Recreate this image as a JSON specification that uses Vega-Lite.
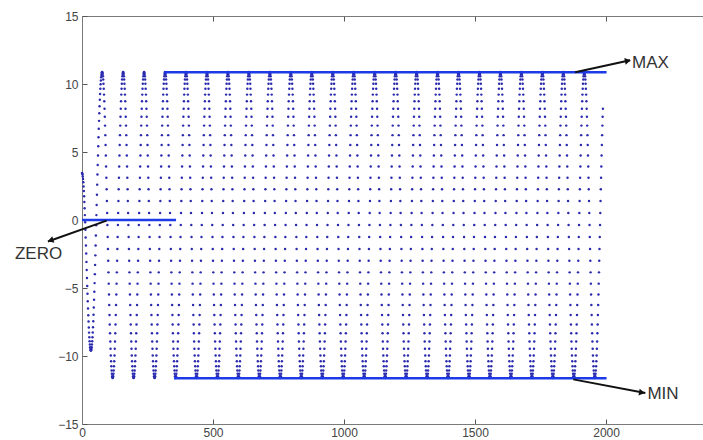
{
"$schema":"https://vega.github.io/schema/vega-lite/v6.json",
"width":621,"height":408,
"autosize":"none",
"padding":{"left":82,"top":16,"right":0,"bottom":16},
"background":"white",
"config":{"view":{"stroke":null},"font":"Liberation Sans",
"axis":{"grid":false,"title":null,"domainColor":"#7a7a7a","tickColor":"#555555","tickWidth":1,"labelColor":"#444444","labelFont":"Liberation Sans","labelFontSize":12,"tickSize":-5,"labelPadding":9,"labelFlush":false,"labelOverlap":false,"format":"d"}},
"datasets":{
"pts":[
{"x":0,"y":3.45},{"x":1,"y":3.42},{"x":2,"y":3.34},{"x":3,"y":3.2},{"x":4,"y":3.01},{"x":5,"y":2.77},{"x":6,"y":2.47},{"x":7,"y":2.13},{"x":8,"y":1.75},{"x":9,"y":1.32},{"x":10,"y":0.86},{"x":11,"y":0.36},{"x":12,"y":-0.17},{"x":13,"y":-0.72},{"x":14,"y":-1.29},{"x":15,"y":-1.88},{"x":16,"y":-2.47},{"x":17,"y":-3.08},{"x":18,"y":-3.68},{"x":19,"y":-4.27},{"x":20,"y":-4.86},{"x":21,"y":-5.43},{"x":22,"y":-5.98},{"x":23,"y":-6.51},{"x":24,"y":-7.01},{"x":25,"y":-7.47},{"x":26,"y":-7.9},{"x":27,"y":-8.28},{"x":28,"y":-8.62},{"x":29,"y":-8.92},{"x":30,"y":-9.16},{"x":31,"y":-9.35},{"x":32,"y":-9.49},{"x":33,"y":-9.57},{"x":34,"y":-9.6},{"x":35,"y":-9.57},{"x":36,"y":-9.49},{"x":37,"y":-9.35},{"x":38,"y":-9.16},{"x":39,"y":-8.92},{"x":40,"y":-8.62},{"x":41,"y":-8.27},{"x":42,"y":-7.88},{"x":43,"y":-7.44},{"x":44,"y":-6.96},{"x":45,"y":-6.43},{"x":46,"y":-5.87},{"x":47,"y":-5.27},{"x":48,"y":-4.64},{"x":49,"y":-3.98},{"x":50,"y":-3.3},{"x":51,"y":-2.6},{"x":52,"y":-1.87},{"x":53,"y":-1.14},{"x":54,"y":-0.39},{"x":55,"y":0.36},{"x":56,"y":1.11},{"x":57,"y":1.86},{"x":58,"y":2.6},{"x":59,"y":3.34},{"x":60,"y":4.05},{"x":61,"y":4.75},{"x":62,"y":5.43},{"x":63,"y":6.08},{"x":64,"y":6.71},{"x":65,"y":7.29},{"x":66,"y":7.85},{"x":67,"y":8.36},{"x":68,"y":8.84},{"x":69,"y":9.26},{"x":70,"y":9.65},{"x":71,"y":9.98},{"x":72,"y":10.26},{"x":73,"y":10.49},{"x":74,"y":10.67},{"x":75,"y":10.8},{"x":76,"y":10.86},
{"x":77,"y":10.88},{"x":78,"y":10.85},{"x":79,"y":10.74},{"x":80,"y":10.57},{"x":81,"y":10.33},{"x":82,"y":10.02},{"x":83,"y":9.65},{"x":84,"y":9.22},{"x":85,"y":8.73},{"x":86,"y":8.18},{"x":87,"y":7.59},{"x":88,"y":6.94},{"x":89,"y":6.24},{"x":90,"y":5.51},{"x":91,"y":4.74},{"x":92,"y":3.94},{"x":93,"y":3.11},{"x":94,"y":2.26},{"x":95,"y":1.39},{"x":96,"y":0.51},{"x":97,"y":-0.37},{"x":98,"y":-1.25},{"x":99,"y":-2.13},{"x":100,"y":-3},{"x":101,"y":-3.85},{"x":102,"y":-4.68},{"x":103,"y":-5.48},{"x":104,"y":-6.25},{"x":105,"y":-6.98},{"x":106,"y":-7.68},{"x":107,"y":-8.33},{"x":108,"y":-8.93},{"x":109,"y":-9.47},{"x":110,"y":-9.96},{"x":111,"y":-10.39},{"x":112,"y":-10.76},{"x":113,"y":-11.07},{"x":114,"y":-11.31},{"x":115,"y":-11.48},{"x":116,"y":-11.59},{"x":117,"y":-11.62},{"x":118,"y":-11.59},{"x":119,"y":-11.48},{"x":120,"y":-11.31},{"x":121,"y":-11.07},{"x":122,"y":-10.76},{"x":123,"y":-10.39},{"x":124,"y":-9.96},{"x":125,"y":-9.47},{"x":126,"y":-8.93},{"x":127,"y":-8.33},{"x":128,"y":-7.68},{"x":129,"y":-6.98},{"x":130,"y":-6.25},{"x":131,"y":-5.48},{"x":132,"y":-4.68},{"x":133,"y":-3.85},{"x":134,"y":-3},{"x":135,"y":-2.13},{"x":136,"y":-1.25},{"x":137,"y":-0.37},{"x":138,"y":0.51},{"x":139,"y":1.39},{"x":140,"y":2.26},{"x":141,"y":3.11},{"x":142,"y":3.94},{"x":143,"y":4.74},{"x":144,"y":5.51},{"x":145,"y":6.24},{"x":146,"y":6.94},{"x":147,"y":7.59},{"x":148,"y":8.18},{"x":149,"y":8.73},{"x":150,"y":9.22},{"x":151,"y":9.65},{"x":152,"y":10.02},{"x":153,"y":10.33},{"x":154,"y":10.57},{"x":155,"y":10.74},{"x":156,"y":10.85},
{"x":157,"y":10.88},{"x":158,"y":10.85},{"x":159,"y":10.74},{"x":160,"y":10.57},{"x":161,"y":10.33},{"x":162,"y":10.02},{"x":163,"y":9.65},{"x":164,"y":9.22},{"x":165,"y":8.73},{"x":166,"y":8.18},{"x":167,"y":7.59},{"x":168,"y":6.94},{"x":169,"y":6.24},{"x":170,"y":5.51},{"x":171,"y":4.74},{"x":172,"y":3.94},{"x":173,"y":3.11},{"x":174,"y":2.26},{"x":175,"y":1.39},{"x":176,"y":0.51},{"x":177,"y":-0.37},{"x":178,"y":-1.25},{"x":179,"y":-2.13},{"x":180,"y":-3},{"x":181,"y":-3.85},{"x":182,"y":-4.68},{"x":183,"y":-5.48},{"x":184,"y":-6.25},{"x":185,"y":-6.98},{"x":186,"y":-7.68},{"x":187,"y":-8.33},{"x":188,"y":-8.93},{"x":189,"y":-9.47},{"x":190,"y":-9.96},{"x":191,"y":-10.39},{"x":192,"y":-10.76},{"x":193,"y":-11.07},{"x":194,"y":-11.31},{"x":195,"y":-11.48},{"x":196,"y":-11.59},{"x":197,"y":-11.62},{"x":198,"y":-11.59},{"x":199,"y":-11.48},{"x":200,"y":-11.31},{"x":201,"y":-11.07},{"x":202,"y":-10.76},{"x":203,"y":-10.39},{"x":204,"y":-9.96},{"x":205,"y":-9.47},{"x":206,"y":-8.93},{"x":207,"y":-8.33},{"x":208,"y":-7.68},{"x":209,"y":-6.98},{"x":210,"y":-6.25},{"x":211,"y":-5.48},{"x":212,"y":-4.68},{"x":213,"y":-3.85},{"x":214,"y":-3},{"x":215,"y":-2.13},{"x":216,"y":-1.25},{"x":217,"y":-0.37},{"x":218,"y":0.51},{"x":219,"y":1.39},{"x":220,"y":2.26},{"x":221,"y":3.11},{"x":222,"y":3.94},{"x":223,"y":4.74},{"x":224,"y":5.51},{"x":225,"y":6.24},{"x":226,"y":6.94},{"x":227,"y":7.59},{"x":228,"y":8.18},{"x":229,"y":8.73},{"x":230,"y":9.22},{"x":231,"y":9.65},{"x":232,"y":10.02},{"x":233,"y":10.33},{"x":234,"y":10.57},{"x":235,"y":10.74},{"x":236,"y":10.85},
{"x":237,"y":10.88},{"x":238,"y":10.85},{"x":239,"y":10.74},{"x":240,"y":10.57},{"x":241,"y":10.33},{"x":242,"y":10.02},{"x":243,"y":9.65},{"x":244,"y":9.22},{"x":245,"y":8.73},{"x":246,"y":8.18},{"x":247,"y":7.59},{"x":248,"y":6.94},{"x":249,"y":6.24},{"x":250,"y":5.51},{"x":251,"y":4.74},{"x":252,"y":3.94},{"x":253,"y":3.11},{"x":254,"y":2.26},{"x":255,"y":1.39},{"x":256,"y":0.51},{"x":257,"y":-0.37},{"x":258,"y":-1.25},{"x":259,"y":-2.13},{"x":260,"y":-3},{"x":261,"y":-3.85},{"x":262,"y":-4.68},{"x":263,"y":-5.48},{"x":264,"y":-6.25},{"x":265,"y":-6.98},{"x":266,"y":-7.68},{"x":267,"y":-8.33},{"x":268,"y":-8.93},{"x":269,"y":-9.47},{"x":270,"y":-9.96},{"x":271,"y":-10.39},{"x":272,"y":-10.76},{"x":273,"y":-11.07},{"x":274,"y":-11.31},{"x":275,"y":-11.48},{"x":276,"y":-11.59},{"x":277,"y":-11.62},{"x":278,"y":-11.59},{"x":279,"y":-11.48},{"x":280,"y":-11.31},{"x":281,"y":-11.07},{"x":282,"y":-10.76},{"x":283,"y":-10.39},{"x":284,"y":-9.96},{"x":285,"y":-9.47},{"x":286,"y":-8.93},{"x":287,"y":-8.33},{"x":288,"y":-7.68},{"x":289,"y":-6.98},{"x":290,"y":-6.25},{"x":291,"y":-5.48},{"x":292,"y":-4.68},{"x":293,"y":-3.85},{"x":294,"y":-3},{"x":295,"y":-2.13},{"x":296,"y":-1.25},{"x":297,"y":-0.37},{"x":298,"y":0.51},{"x":299,"y":1.39},{"x":300,"y":2.26},{"x":301,"y":3.11},{"x":302,"y":3.94},{"x":303,"y":4.74},{"x":304,"y":5.51},{"x":305,"y":6.24},{"x":306,"y":6.94},{"x":307,"y":7.59},{"x":308,"y":8.18},{"x":309,"y":8.73},{"x":310,"y":9.22},{"x":311,"y":9.65},{"x":312,"y":10.02},{"x":313,"y":10.33},{"x":314,"y":10.57},{"x":315,"y":10.74},{"x":316,"y":10.85},
{"x":317,"y":10.88},{"x":318,"y":10.85},{"x":319,"y":10.74},{"x":320,"y":10.57},{"x":321,"y":10.33},{"x":322,"y":10.02},{"x":323,"y":9.65},{"x":324,"y":9.22},{"x":325,"y":8.73},{"x":326,"y":8.18},{"x":327,"y":7.59},{"x":328,"y":6.94},{"x":329,"y":6.24},{"x":330,"y":5.51},{"x":331,"y":4.74},{"x":332,"y":3.94},{"x":333,"y":3.11},{"x":334,"y":2.26},{"x":335,"y":1.39},{"x":336,"y":0.51},{"x":337,"y":-0.37},{"x":338,"y":-1.25},{"x":339,"y":-2.13},{"x":340,"y":-3},{"x":341,"y":-3.85},{"x":342,"y":-4.68},{"x":343,"y":-5.48},{"x":344,"y":-6.25},{"x":345,"y":-6.98},{"x":346,"y":-7.68},{"x":347,"y":-8.33},{"x":348,"y":-8.93},{"x":349,"y":-9.47},{"x":350,"y":-9.96},{"x":351,"y":-10.39},{"x":352,"y":-10.76},{"x":353,"y":-11.07},{"x":354,"y":-11.31},{"x":355,"y":-11.48},{"x":356,"y":-11.59},{"x":357,"y":-11.62},{"x":358,"y":-11.59},{"x":359,"y":-11.48},{"x":360,"y":-11.31},{"x":361,"y":-11.07},{"x":362,"y":-10.76},{"x":363,"y":-10.39},{"x":364,"y":-9.96},{"x":365,"y":-9.47},{"x":366,"y":-8.93},{"x":367,"y":-8.33},{"x":368,"y":-7.68},{"x":369,"y":-6.98},{"x":370,"y":-6.25},{"x":371,"y":-5.48},{"x":372,"y":-4.68},{"x":373,"y":-3.85},{"x":374,"y":-3},{"x":375,"y":-2.13},{"x":376,"y":-1.25},{"x":377,"y":-0.37},{"x":378,"y":0.51},{"x":379,"y":1.39},{"x":380,"y":2.26},{"x":381,"y":3.11},{"x":382,"y":3.94},{"x":383,"y":4.74},{"x":384,"y":5.51},{"x":385,"y":6.24},{"x":386,"y":6.94},{"x":387,"y":7.59},{"x":388,"y":8.18},{"x":389,"y":8.73},{"x":390,"y":9.22},{"x":391,"y":9.65},{"x":392,"y":10.02},{"x":393,"y":10.33},{"x":394,"y":10.57},{"x":395,"y":10.74},{"x":396,"y":10.85},
{"x":397,"y":10.88},{"x":398,"y":10.85},{"x":399,"y":10.74},{"x":400,"y":10.57},{"x":401,"y":10.33},{"x":402,"y":10.02},{"x":403,"y":9.65},{"x":404,"y":9.22},{"x":405,"y":8.73},{"x":406,"y":8.18},{"x":407,"y":7.59},{"x":408,"y":6.94},{"x":409,"y":6.24},{"x":410,"y":5.51},{"x":411,"y":4.74},{"x":412,"y":3.94},{"x":413,"y":3.11},{"x":414,"y":2.26},{"x":415,"y":1.39},{"x":416,"y":0.51},{"x":417,"y":-0.37},{"x":418,"y":-1.25},{"x":419,"y":-2.13},{"x":420,"y":-3},{"x":421,"y":-3.85},{"x":422,"y":-4.68},{"x":423,"y":-5.48},{"x":424,"y":-6.25},{"x":425,"y":-6.98},{"x":426,"y":-7.68},{"x":427,"y":-8.33},{"x":428,"y":-8.93},{"x":429,"y":-9.47},{"x":430,"y":-9.96},{"x":431,"y":-10.39},{"x":432,"y":-10.76},{"x":433,"y":-11.07},{"x":434,"y":-11.31},{"x":435,"y":-11.48},{"x":436,"y":-11.59},{"x":437,"y":-11.62},{"x":438,"y":-11.59},{"x":439,"y":-11.48},{"x":440,"y":-11.31},{"x":441,"y":-11.07},{"x":442,"y":-10.76},{"x":443,"y":-10.39},{"x":444,"y":-9.96},{"x":445,"y":-9.47},{"x":446,"y":-8.93},{"x":447,"y":-8.33},{"x":448,"y":-7.68},{"x":449,"y":-6.98},{"x":450,"y":-6.25},{"x":451,"y":-5.48},{"x":452,"y":-4.68},{"x":453,"y":-3.85},{"x":454,"y":-3},{"x":455,"y":-2.13},{"x":456,"y":-1.25},{"x":457,"y":-0.37},{"x":458,"y":0.51},{"x":459,"y":1.39},{"x":460,"y":2.26},{"x":461,"y":3.11},{"x":462,"y":3.94},{"x":463,"y":4.74},{"x":464,"y":5.51},{"x":465,"y":6.24},{"x":466,"y":6.94},{"x":467,"y":7.59},{"x":468,"y":8.18},{"x":469,"y":8.73},{"x":470,"y":9.22},{"x":471,"y":9.65},{"x":472,"y":10.02},{"x":473,"y":10.33},{"x":474,"y":10.57},{"x":475,"y":10.74},{"x":476,"y":10.85},
{"x":477,"y":10.88},{"x":478,"y":10.85},{"x":479,"y":10.74},{"x":480,"y":10.57},{"x":481,"y":10.33},{"x":482,"y":10.02},{"x":483,"y":9.65},{"x":484,"y":9.22},{"x":485,"y":8.73},{"x":486,"y":8.18},{"x":487,"y":7.59},{"x":488,"y":6.94},{"x":489,"y":6.24},{"x":490,"y":5.51},{"x":491,"y":4.74},{"x":492,"y":3.94},{"x":493,"y":3.11},{"x":494,"y":2.26},{"x":495,"y":1.39},{"x":496,"y":0.51},{"x":497,"y":-0.37},{"x":498,"y":-1.25},{"x":499,"y":-2.13},{"x":500,"y":-3},{"x":501,"y":-3.85},{"x":502,"y":-4.68},{"x":503,"y":-5.48},{"x":504,"y":-6.25},{"x":505,"y":-6.98},{"x":506,"y":-7.68},{"x":507,"y":-8.33},{"x":508,"y":-8.93},{"x":509,"y":-9.47},{"x":510,"y":-9.96},{"x":511,"y":-10.39},{"x":512,"y":-10.76},{"x":513,"y":-11.07},{"x":514,"y":-11.31},{"x":515,"y":-11.48},{"x":516,"y":-11.59},{"x":517,"y":-11.62},{"x":518,"y":-11.59},{"x":519,"y":-11.48},{"x":520,"y":-11.31},{"x":521,"y":-11.07},{"x":522,"y":-10.76},{"x":523,"y":-10.39},{"x":524,"y":-9.96},{"x":525,"y":-9.47},{"x":526,"y":-8.93},{"x":527,"y":-8.33},{"x":528,"y":-7.68},{"x":529,"y":-6.98},{"x":530,"y":-6.25},{"x":531,"y":-5.48},{"x":532,"y":-4.68},{"x":533,"y":-3.85},{"x":534,"y":-3},{"x":535,"y":-2.13},{"x":536,"y":-1.25},{"x":537,"y":-0.37},{"x":538,"y":0.51},{"x":539,"y":1.39},{"x":540,"y":2.26},{"x":541,"y":3.11},{"x":542,"y":3.94},{"x":543,"y":4.74},{"x":544,"y":5.51},{"x":545,"y":6.24},{"x":546,"y":6.94},{"x":547,"y":7.59},{"x":548,"y":8.18},{"x":549,"y":8.73},{"x":550,"y":9.22},{"x":551,"y":9.65},{"x":552,"y":10.02},{"x":553,"y":10.33},{"x":554,"y":10.57},{"x":555,"y":10.74},{"x":556,"y":10.85},
{"x":557,"y":10.88},{"x":558,"y":10.85},{"x":559,"y":10.74},{"x":560,"y":10.57},{"x":561,"y":10.33},{"x":562,"y":10.02},{"x":563,"y":9.65},{"x":564,"y":9.22},{"x":565,"y":8.73},{"x":566,"y":8.18},{"x":567,"y":7.59},{"x":568,"y":6.94},{"x":569,"y":6.24},{"x":570,"y":5.51},{"x":571,"y":4.74},{"x":572,"y":3.94},{"x":573,"y":3.11},{"x":574,"y":2.26},{"x":575,"y":1.39},{"x":576,"y":0.51},{"x":577,"y":-0.37},{"x":578,"y":-1.25},{"x":579,"y":-2.13},{"x":580,"y":-3},{"x":581,"y":-3.85},{"x":582,"y":-4.68},{"x":583,"y":-5.48},{"x":584,"y":-6.25},{"x":585,"y":-6.98},{"x":586,"y":-7.68},{"x":587,"y":-8.33},{"x":588,"y":-8.93},{"x":589,"y":-9.47},{"x":590,"y":-9.96},{"x":591,"y":-10.39},{"x":592,"y":-10.76},{"x":593,"y":-11.07},{"x":594,"y":-11.31},{"x":595,"y":-11.48},{"x":596,"y":-11.59},{"x":597,"y":-11.62},{"x":598,"y":-11.59},{"x":599,"y":-11.48},{"x":600,"y":-11.31},{"x":601,"y":-11.07},{"x":602,"y":-10.76},{"x":603,"y":-10.39},{"x":604,"y":-9.96},{"x":605,"y":-9.47},{"x":606,"y":-8.93},{"x":607,"y":-8.33},{"x":608,"y":-7.68},{"x":609,"y":-6.98},{"x":610,"y":-6.25},{"x":611,"y":-5.48},{"x":612,"y":-4.68},{"x":613,"y":-3.85},{"x":614,"y":-3},{"x":615,"y":-2.13},{"x":616,"y":-1.25},{"x":617,"y":-0.37},{"x":618,"y":0.51},{"x":619,"y":1.39},{"x":620,"y":2.26},{"x":621,"y":3.11},{"x":622,"y":3.94},{"x":623,"y":4.74},{"x":624,"y":5.51},{"x":625,"y":6.24},{"x":626,"y":6.94},{"x":627,"y":7.59},{"x":628,"y":8.18},{"x":629,"y":8.73},{"x":630,"y":9.22},{"x":631,"y":9.65},{"x":632,"y":10.02},{"x":633,"y":10.33},{"x":634,"y":10.57},{"x":635,"y":10.74},{"x":636,"y":10.85},
{"x":637,"y":10.88},{"x":638,"y":10.85},{"x":639,"y":10.74},{"x":640,"y":10.57},{"x":641,"y":10.33},{"x":642,"y":10.02},{"x":643,"y":9.65},{"x":644,"y":9.22},{"x":645,"y":8.73},{"x":646,"y":8.18},{"x":647,"y":7.59},{"x":648,"y":6.94},{"x":649,"y":6.24},{"x":650,"y":5.51},{"x":651,"y":4.74},{"x":652,"y":3.94},{"x":653,"y":3.11},{"x":654,"y":2.26},{"x":655,"y":1.39},{"x":656,"y":0.51},{"x":657,"y":-0.37},{"x":658,"y":-1.25},{"x":659,"y":-2.13},{"x":660,"y":-3},{"x":661,"y":-3.85},{"x":662,"y":-4.68},{"x":663,"y":-5.48},{"x":664,"y":-6.25},{"x":665,"y":-6.98},{"x":666,"y":-7.68},{"x":667,"y":-8.33},{"x":668,"y":-8.93},{"x":669,"y":-9.47},{"x":670,"y":-9.96},{"x":671,"y":-10.39},{"x":672,"y":-10.76},{"x":673,"y":-11.07},{"x":674,"y":-11.31},{"x":675,"y":-11.48},{"x":676,"y":-11.59},{"x":677,"y":-11.62},{"x":678,"y":-11.59},{"x":679,"y":-11.48},{"x":680,"y":-11.31},{"x":681,"y":-11.07},{"x":682,"y":-10.76},{"x":683,"y":-10.39},{"x":684,"y":-9.96},{"x":685,"y":-9.47},{"x":686,"y":-8.93},{"x":687,"y":-8.33},{"x":688,"y":-7.68},{"x":689,"y":-6.98},{"x":690,"y":-6.25},{"x":691,"y":-5.48},{"x":692,"y":-4.68},{"x":693,"y":-3.85},{"x":694,"y":-3},{"x":695,"y":-2.13},{"x":696,"y":-1.25},{"x":697,"y":-0.37},{"x":698,"y":0.51},{"x":699,"y":1.39},{"x":700,"y":2.26},{"x":701,"y":3.11},{"x":702,"y":3.94},{"x":703,"y":4.74},{"x":704,"y":5.51},{"x":705,"y":6.24},{"x":706,"y":6.94},{"x":707,"y":7.59},{"x":708,"y":8.18},{"x":709,"y":8.73},{"x":710,"y":9.22},{"x":711,"y":9.65},{"x":712,"y":10.02},{"x":713,"y":10.33},{"x":714,"y":10.57},{"x":715,"y":10.74},{"x":716,"y":10.85},
{"x":717,"y":10.88},{"x":718,"y":10.85},{"x":719,"y":10.74},{"x":720,"y":10.57},{"x":721,"y":10.33},{"x":722,"y":10.02},{"x":723,"y":9.65},{"x":724,"y":9.22},{"x":725,"y":8.73},{"x":726,"y":8.18},{"x":727,"y":7.59},{"x":728,"y":6.94},{"x":729,"y":6.24},{"x":730,"y":5.51},{"x":731,"y":4.74},{"x":732,"y":3.94},{"x":733,"y":3.11},{"x":734,"y":2.26},{"x":735,"y":1.39},{"x":736,"y":0.51},{"x":737,"y":-0.37},{"x":738,"y":-1.25},{"x":739,"y":-2.13},{"x":740,"y":-3},{"x":741,"y":-3.85},{"x":742,"y":-4.68},{"x":743,"y":-5.48},{"x":744,"y":-6.25},{"x":745,"y":-6.98},{"x":746,"y":-7.68},{"x":747,"y":-8.33},{"x":748,"y":-8.93},{"x":749,"y":-9.47},{"x":750,"y":-9.96},{"x":751,"y":-10.39},{"x":752,"y":-10.76},{"x":753,"y":-11.07},{"x":754,"y":-11.31},{"x":755,"y":-11.48},{"x":756,"y":-11.59},{"x":757,"y":-11.62},{"x":758,"y":-11.59},{"x":759,"y":-11.48},{"x":760,"y":-11.31},{"x":761,"y":-11.07},{"x":762,"y":-10.76},{"x":763,"y":-10.39},{"x":764,"y":-9.96},{"x":765,"y":-9.47},{"x":766,"y":-8.93},{"x":767,"y":-8.33},{"x":768,"y":-7.68},{"x":769,"y":-6.98},{"x":770,"y":-6.25},{"x":771,"y":-5.48},{"x":772,"y":-4.68},{"x":773,"y":-3.85},{"x":774,"y":-3},{"x":775,"y":-2.13},{"x":776,"y":-1.25},{"x":777,"y":-0.37},{"x":778,"y":0.51},{"x":779,"y":1.39},{"x":780,"y":2.26},{"x":781,"y":3.11},{"x":782,"y":3.94},{"x":783,"y":4.74},{"x":784,"y":5.51},{"x":785,"y":6.24},{"x":786,"y":6.94},{"x":787,"y":7.59},{"x":788,"y":8.18},{"x":789,"y":8.73},{"x":790,"y":9.22},{"x":791,"y":9.65},{"x":792,"y":10.02},{"x":793,"y":10.33},{"x":794,"y":10.57},{"x":795,"y":10.74},{"x":796,"y":10.85},
{"x":797,"y":10.88},{"x":798,"y":10.85},{"x":799,"y":10.74},{"x":800,"y":10.57},{"x":801,"y":10.33},{"x":802,"y":10.02},{"x":803,"y":9.65},{"x":804,"y":9.22},{"x":805,"y":8.73},{"x":806,"y":8.18},{"x":807,"y":7.59},{"x":808,"y":6.94},{"x":809,"y":6.24},{"x":810,"y":5.51},{"x":811,"y":4.74},{"x":812,"y":3.94},{"x":813,"y":3.11},{"x":814,"y":2.26},{"x":815,"y":1.39},{"x":816,"y":0.51},{"x":817,"y":-0.37},{"x":818,"y":-1.25},{"x":819,"y":-2.13},{"x":820,"y":-3},{"x":821,"y":-3.85},{"x":822,"y":-4.68},{"x":823,"y":-5.48},{"x":824,"y":-6.25},{"x":825,"y":-6.98},{"x":826,"y":-7.68},{"x":827,"y":-8.33},{"x":828,"y":-8.93},{"x":829,"y":-9.47},{"x":830,"y":-9.96},{"x":831,"y":-10.39},{"x":832,"y":-10.76},{"x":833,"y":-11.07},{"x":834,"y":-11.31},{"x":835,"y":-11.48},{"x":836,"y":-11.59},{"x":837,"y":-11.62},{"x":838,"y":-11.59},{"x":839,"y":-11.48},{"x":840,"y":-11.31},{"x":841,"y":-11.07},{"x":842,"y":-10.76},{"x":843,"y":-10.39},{"x":844,"y":-9.96},{"x":845,"y":-9.47},{"x":846,"y":-8.93},{"x":847,"y":-8.33},{"x":848,"y":-7.68},{"x":849,"y":-6.98},{"x":850,"y":-6.25},{"x":851,"y":-5.48},{"x":852,"y":-4.68},{"x":853,"y":-3.85},{"x":854,"y":-3},{"x":855,"y":-2.13},{"x":856,"y":-1.25},{"x":857,"y":-0.37},{"x":858,"y":0.51},{"x":859,"y":1.39},{"x":860,"y":2.26},{"x":861,"y":3.11},{"x":862,"y":3.94},{"x":863,"y":4.74},{"x":864,"y":5.51},{"x":865,"y":6.24},{"x":866,"y":6.94},{"x":867,"y":7.59},{"x":868,"y":8.18},{"x":869,"y":8.73},{"x":870,"y":9.22},{"x":871,"y":9.65},{"x":872,"y":10.02},{"x":873,"y":10.33},{"x":874,"y":10.57},{"x":875,"y":10.74},{"x":876,"y":10.85},
{"x":877,"y":10.88},{"x":878,"y":10.85},{"x":879,"y":10.74},{"x":880,"y":10.57},{"x":881,"y":10.33},{"x":882,"y":10.02},{"x":883,"y":9.65},{"x":884,"y":9.22},{"x":885,"y":8.73},{"x":886,"y":8.18},{"x":887,"y":7.59},{"x":888,"y":6.94},{"x":889,"y":6.24},{"x":890,"y":5.51},{"x":891,"y":4.74},{"x":892,"y":3.94},{"x":893,"y":3.11},{"x":894,"y":2.26},{"x":895,"y":1.39},{"x":896,"y":0.51},{"x":897,"y":-0.37},{"x":898,"y":-1.25},{"x":899,"y":-2.13},{"x":900,"y":-3},{"x":901,"y":-3.85},{"x":902,"y":-4.68},{"x":903,"y":-5.48},{"x":904,"y":-6.25},{"x":905,"y":-6.98},{"x":906,"y":-7.68},{"x":907,"y":-8.33},{"x":908,"y":-8.93},{"x":909,"y":-9.47},{"x":910,"y":-9.96},{"x":911,"y":-10.39},{"x":912,"y":-10.76},{"x":913,"y":-11.07},{"x":914,"y":-11.31},{"x":915,"y":-11.48},{"x":916,"y":-11.59},{"x":917,"y":-11.62},{"x":918,"y":-11.59},{"x":919,"y":-11.48},{"x":920,"y":-11.31},{"x":921,"y":-11.07},{"x":922,"y":-10.76},{"x":923,"y":-10.39},{"x":924,"y":-9.96},{"x":925,"y":-9.47},{"x":926,"y":-8.93},{"x":927,"y":-8.33},{"x":928,"y":-7.68},{"x":929,"y":-6.98},{"x":930,"y":-6.25},{"x":931,"y":-5.48},{"x":932,"y":-4.68},{"x":933,"y":-3.85},{"x":934,"y":-3},{"x":935,"y":-2.13},{"x":936,"y":-1.25},{"x":937,"y":-0.37},{"x":938,"y":0.51},{"x":939,"y":1.39},{"x":940,"y":2.26},{"x":941,"y":3.11},{"x":942,"y":3.94},{"x":943,"y":4.74},{"x":944,"y":5.51},{"x":945,"y":6.24},{"x":946,"y":6.94},{"x":947,"y":7.59},{"x":948,"y":8.18},{"x":949,"y":8.73},{"x":950,"y":9.22},{"x":951,"y":9.65},{"x":952,"y":10.02},{"x":953,"y":10.33},{"x":954,"y":10.57},{"x":955,"y":10.74},{"x":956,"y":10.85},
{"x":957,"y":10.88},{"x":958,"y":10.85},{"x":959,"y":10.74},{"x":960,"y":10.57},{"x":961,"y":10.33},{"x":962,"y":10.02},{"x":963,"y":9.65},{"x":964,"y":9.22},{"x":965,"y":8.73},{"x":966,"y":8.18},{"x":967,"y":7.59},{"x":968,"y":6.94},{"x":969,"y":6.24},{"x":970,"y":5.51},{"x":971,"y":4.74},{"x":972,"y":3.94},{"x":973,"y":3.11},{"x":974,"y":2.26},{"x":975,"y":1.39},{"x":976,"y":0.51},{"x":977,"y":-0.37},{"x":978,"y":-1.25},{"x":979,"y":-2.13},{"x":980,"y":-3},{"x":981,"y":-3.85},{"x":982,"y":-4.68},{"x":983,"y":-5.48},{"x":984,"y":-6.25},{"x":985,"y":-6.98},{"x":986,"y":-7.68},{"x":987,"y":-8.33},{"x":988,"y":-8.93},{"x":989,"y":-9.47},{"x":990,"y":-9.96},{"x":991,"y":-10.39},{"x":992,"y":-10.76},{"x":993,"y":-11.07},{"x":994,"y":-11.31},{"x":995,"y":-11.48},{"x":996,"y":-11.59},{"x":997,"y":-11.62},{"x":998,"y":-11.59},{"x":999,"y":-11.48},{"x":1000,"y":-11.31},{"x":1001,"y":-11.07},{"x":1002,"y":-10.76},{"x":1003,"y":-10.39},{"x":1004,"y":-9.96},{"x":1005,"y":-9.47},{"x":1006,"y":-8.93},{"x":1007,"y":-8.33},{"x":1008,"y":-7.68},{"x":1009,"y":-6.98},{"x":1010,"y":-6.25},{"x":1011,"y":-5.48},{"x":1012,"y":-4.68},{"x":1013,"y":-3.85},{"x":1014,"y":-3},{"x":1015,"y":-2.13},{"x":1016,"y":-1.25},{"x":1017,"y":-0.37},{"x":1018,"y":0.51},{"x":1019,"y":1.39},{"x":1020,"y":2.26},{"x":1021,"y":3.11},{"x":1022,"y":3.94},{"x":1023,"y":4.74},{"x":1024,"y":5.51},{"x":1025,"y":6.24},{"x":1026,"y":6.94},{"x":1027,"y":7.59},{"x":1028,"y":8.18},{"x":1029,"y":8.73},{"x":1030,"y":9.22},{"x":1031,"y":9.65},{"x":1032,"y":10.02},{"x":1033,"y":10.33},{"x":1034,"y":10.57},{"x":1035,"y":10.74},{"x":1036,"y":10.85},
{"x":1037,"y":10.88},{"x":1038,"y":10.85},{"x":1039,"y":10.74},{"x":1040,"y":10.57},{"x":1041,"y":10.33},{"x":1042,"y":10.02},{"x":1043,"y":9.65},{"x":1044,"y":9.22},{"x":1045,"y":8.73},{"x":1046,"y":8.18},{"x":1047,"y":7.59},{"x":1048,"y":6.94},{"x":1049,"y":6.24},{"x":1050,"y":5.51},{"x":1051,"y":4.74},{"x":1052,"y":3.94},{"x":1053,"y":3.11},{"x":1054,"y":2.26},{"x":1055,"y":1.39},{"x":1056,"y":0.51},{"x":1057,"y":-0.37},{"x":1058,"y":-1.25},{"x":1059,"y":-2.13},{"x":1060,"y":-3},{"x":1061,"y":-3.85},{"x":1062,"y":-4.68},{"x":1063,"y":-5.48},{"x":1064,"y":-6.25},{"x":1065,"y":-6.98},{"x":1066,"y":-7.68},{"x":1067,"y":-8.33},{"x":1068,"y":-8.93},{"x":1069,"y":-9.47},{"x":1070,"y":-9.96},{"x":1071,"y":-10.39},{"x":1072,"y":-10.76},{"x":1073,"y":-11.07},{"x":1074,"y":-11.31},{"x":1075,"y":-11.48},{"x":1076,"y":-11.59},{"x":1077,"y":-11.62},{"x":1078,"y":-11.59},{"x":1079,"y":-11.48},{"x":1080,"y":-11.31},{"x":1081,"y":-11.07},{"x":1082,"y":-10.76},{"x":1083,"y":-10.39},{"x":1084,"y":-9.96},{"x":1085,"y":-9.47},{"x":1086,"y":-8.93},{"x":1087,"y":-8.33},{"x":1088,"y":-7.68},{"x":1089,"y":-6.98},{"x":1090,"y":-6.25},{"x":1091,"y":-5.48},{"x":1092,"y":-4.68},{"x":1093,"y":-3.85},{"x":1094,"y":-3},{"x":1095,"y":-2.13},{"x":1096,"y":-1.25},{"x":1097,"y":-0.37},{"x":1098,"y":0.51},{"x":1099,"y":1.39},{"x":1100,"y":2.26},{"x":1101,"y":3.11},{"x":1102,"y":3.94},{"x":1103,"y":4.74},{"x":1104,"y":5.51},{"x":1105,"y":6.24},{"x":1106,"y":6.94},{"x":1107,"y":7.59},{"x":1108,"y":8.18},{"x":1109,"y":8.73},{"x":1110,"y":9.22},{"x":1111,"y":9.65},{"x":1112,"y":10.02},{"x":1113,"y":10.33},{"x":1114,"y":10.57},{"x":1115,"y":10.74},{"x":1116,"y":10.85},
{"x":1117,"y":10.88},{"x":1118,"y":10.85},{"x":1119,"y":10.74},{"x":1120,"y":10.57},{"x":1121,"y":10.33},{"x":1122,"y":10.02},{"x":1123,"y":9.65},{"x":1124,"y":9.22},{"x":1125,"y":8.73},{"x":1126,"y":8.18},{"x":1127,"y":7.59},{"x":1128,"y":6.94},{"x":1129,"y":6.24},{"x":1130,"y":5.51},{"x":1131,"y":4.74},{"x":1132,"y":3.94},{"x":1133,"y":3.11},{"x":1134,"y":2.26},{"x":1135,"y":1.39},{"x":1136,"y":0.51},{"x":1137,"y":-0.37},{"x":1138,"y":-1.25},{"x":1139,"y":-2.13},{"x":1140,"y":-3},{"x":1141,"y":-3.85},{"x":1142,"y":-4.68},{"x":1143,"y":-5.48},{"x":1144,"y":-6.25},{"x":1145,"y":-6.98},{"x":1146,"y":-7.68},{"x":1147,"y":-8.33},{"x":1148,"y":-8.93},{"x":1149,"y":-9.47},{"x":1150,"y":-9.96},{"x":1151,"y":-10.39},{"x":1152,"y":-10.76},{"x":1153,"y":-11.07},{"x":1154,"y":-11.31},{"x":1155,"y":-11.48},{"x":1156,"y":-11.59},{"x":1157,"y":-11.62},{"x":1158,"y":-11.59},{"x":1159,"y":-11.48},{"x":1160,"y":-11.31},{"x":1161,"y":-11.07},{"x":1162,"y":-10.76},{"x":1163,"y":-10.39},{"x":1164,"y":-9.96},{"x":1165,"y":-9.47},{"x":1166,"y":-8.93},{"x":1167,"y":-8.33},{"x":1168,"y":-7.68},{"x":1169,"y":-6.98},{"x":1170,"y":-6.25},{"x":1171,"y":-5.48},{"x":1172,"y":-4.68},{"x":1173,"y":-3.85},{"x":1174,"y":-3},{"x":1175,"y":-2.13},{"x":1176,"y":-1.25},{"x":1177,"y":-0.37},{"x":1178,"y":0.51},{"x":1179,"y":1.39},{"x":1180,"y":2.26},{"x":1181,"y":3.11},{"x":1182,"y":3.94},{"x":1183,"y":4.74},{"x":1184,"y":5.51},{"x":1185,"y":6.24},{"x":1186,"y":6.94},{"x":1187,"y":7.59},{"x":1188,"y":8.18},{"x":1189,"y":8.73},{"x":1190,"y":9.22},{"x":1191,"y":9.65},{"x":1192,"y":10.02},{"x":1193,"y":10.33},{"x":1194,"y":10.57},{"x":1195,"y":10.74},{"x":1196,"y":10.85},
{"x":1197,"y":10.88},{"x":1198,"y":10.85},{"x":1199,"y":10.74},{"x":1200,"y":10.57},{"x":1201,"y":10.33},{"x":1202,"y":10.02},{"x":1203,"y":9.65},{"x":1204,"y":9.22},{"x":1205,"y":8.73},{"x":1206,"y":8.18},{"x":1207,"y":7.59},{"x":1208,"y":6.94},{"x":1209,"y":6.24},{"x":1210,"y":5.51},{"x":1211,"y":4.74},{"x":1212,"y":3.94},{"x":1213,"y":3.11},{"x":1214,"y":2.26},{"x":1215,"y":1.39},{"x":1216,"y":0.51},{"x":1217,"y":-0.37},{"x":1218,"y":-1.25},{"x":1219,"y":-2.13},{"x":1220,"y":-3},{"x":1221,"y":-3.85},{"x":1222,"y":-4.68},{"x":1223,"y":-5.48},{"x":1224,"y":-6.25},{"x":1225,"y":-6.98},{"x":1226,"y":-7.68},{"x":1227,"y":-8.33},{"x":1228,"y":-8.93},{"x":1229,"y":-9.47},{"x":1230,"y":-9.96},{"x":1231,"y":-10.39},{"x":1232,"y":-10.76},{"x":1233,"y":-11.07},{"x":1234,"y":-11.31},{"x":1235,"y":-11.48},{"x":1236,"y":-11.59},{"x":1237,"y":-11.62},{"x":1238,"y":-11.59},{"x":1239,"y":-11.48},{"x":1240,"y":-11.31},{"x":1241,"y":-11.07},{"x":1242,"y":-10.76},{"x":1243,"y":-10.39},{"x":1244,"y":-9.96},{"x":1245,"y":-9.47},{"x":1246,"y":-8.93},{"x":1247,"y":-8.33},{"x":1248,"y":-7.68},{"x":1249,"y":-6.98},{"x":1250,"y":-6.25},{"x":1251,"y":-5.48},{"x":1252,"y":-4.68},{"x":1253,"y":-3.85},{"x":1254,"y":-3},{"x":1255,"y":-2.13},{"x":1256,"y":-1.25},{"x":1257,"y":-0.37},{"x":1258,"y":0.51},{"x":1259,"y":1.39},{"x":1260,"y":2.26},{"x":1261,"y":3.11},{"x":1262,"y":3.94},{"x":1263,"y":4.74},{"x":1264,"y":5.51},{"x":1265,"y":6.24},{"x":1266,"y":6.94},{"x":1267,"y":7.59},{"x":1268,"y":8.18},{"x":1269,"y":8.73},{"x":1270,"y":9.22},{"x":1271,"y":9.65},{"x":1272,"y":10.02},{"x":1273,"y":10.33},{"x":1274,"y":10.57},{"x":1275,"y":10.74},{"x":1276,"y":10.85},
{"x":1277,"y":10.88},{"x":1278,"y":10.85},{"x":1279,"y":10.74},{"x":1280,"y":10.57},{"x":1281,"y":10.33},{"x":1282,"y":10.02},{"x":1283,"y":9.65},{"x":1284,"y":9.22},{"x":1285,"y":8.73},{"x":1286,"y":8.18},{"x":1287,"y":7.59},{"x":1288,"y":6.94},{"x":1289,"y":6.24},{"x":1290,"y":5.51},{"x":1291,"y":4.74},{"x":1292,"y":3.94},{"x":1293,"y":3.11},{"x":1294,"y":2.26},{"x":1295,"y":1.39},{"x":1296,"y":0.51},{"x":1297,"y":-0.37},{"x":1298,"y":-1.25},{"x":1299,"y":-2.13},{"x":1300,"y":-3},{"x":1301,"y":-3.85},{"x":1302,"y":-4.68},{"x":1303,"y":-5.48},{"x":1304,"y":-6.25},{"x":1305,"y":-6.98},{"x":1306,"y":-7.68},{"x":1307,"y":-8.33},{"x":1308,"y":-8.93},{"x":1309,"y":-9.47},{"x":1310,"y":-9.96},{"x":1311,"y":-10.39},{"x":1312,"y":-10.76},{"x":1313,"y":-11.07},{"x":1314,"y":-11.31},{"x":1315,"y":-11.48},{"x":1316,"y":-11.59},{"x":1317,"y":-11.62},{"x":1318,"y":-11.59},{"x":1319,"y":-11.48},{"x":1320,"y":-11.31},{"x":1321,"y":-11.07},{"x":1322,"y":-10.76},{"x":1323,"y":-10.39},{"x":1324,"y":-9.96},{"x":1325,"y":-9.47},{"x":1326,"y":-8.93},{"x":1327,"y":-8.33},{"x":1328,"y":-7.68},{"x":1329,"y":-6.98},{"x":1330,"y":-6.25},{"x":1331,"y":-5.48},{"x":1332,"y":-4.68},{"x":1333,"y":-3.85},{"x":1334,"y":-3},{"x":1335,"y":-2.13},{"x":1336,"y":-1.25},{"x":1337,"y":-0.37},{"x":1338,"y":0.51},{"x":1339,"y":1.39},{"x":1340,"y":2.26},{"x":1341,"y":3.11},{"x":1342,"y":3.94},{"x":1343,"y":4.74},{"x":1344,"y":5.51},{"x":1345,"y":6.24},{"x":1346,"y":6.94},{"x":1347,"y":7.59},{"x":1348,"y":8.18},{"x":1349,"y":8.73},{"x":1350,"y":9.22},{"x":1351,"y":9.65},{"x":1352,"y":10.02},{"x":1353,"y":10.33},{"x":1354,"y":10.57},{"x":1355,"y":10.74},{"x":1356,"y":10.85},
{"x":1357,"y":10.88},{"x":1358,"y":10.85},{"x":1359,"y":10.74},{"x":1360,"y":10.57},{"x":1361,"y":10.33},{"x":1362,"y":10.02},{"x":1363,"y":9.65},{"x":1364,"y":9.22},{"x":1365,"y":8.73},{"x":1366,"y":8.18},{"x":1367,"y":7.59},{"x":1368,"y":6.94},{"x":1369,"y":6.24},{"x":1370,"y":5.51},{"x":1371,"y":4.74},{"x":1372,"y":3.94},{"x":1373,"y":3.11},{"x":1374,"y":2.26},{"x":1375,"y":1.39},{"x":1376,"y":0.51},{"x":1377,"y":-0.37},{"x":1378,"y":-1.25},{"x":1379,"y":-2.13},{"x":1380,"y":-3},{"x":1381,"y":-3.85},{"x":1382,"y":-4.68},{"x":1383,"y":-5.48},{"x":1384,"y":-6.25},{"x":1385,"y":-6.98},{"x":1386,"y":-7.68},{"x":1387,"y":-8.33},{"x":1388,"y":-8.93},{"x":1389,"y":-9.47},{"x":1390,"y":-9.96},{"x":1391,"y":-10.39},{"x":1392,"y":-10.76},{"x":1393,"y":-11.07},{"x":1394,"y":-11.31},{"x":1395,"y":-11.48},{"x":1396,"y":-11.59},{"x":1397,"y":-11.62},{"x":1398,"y":-11.59},{"x":1399,"y":-11.48},{"x":1400,"y":-11.31},{"x":1401,"y":-11.07},{"x":1402,"y":-10.76},{"x":1403,"y":-10.39},{"x":1404,"y":-9.96},{"x":1405,"y":-9.47},{"x":1406,"y":-8.93},{"x":1407,"y":-8.33},{"x":1408,"y":-7.68},{"x":1409,"y":-6.98},{"x":1410,"y":-6.25},{"x":1411,"y":-5.48},{"x":1412,"y":-4.68},{"x":1413,"y":-3.85},{"x":1414,"y":-3},{"x":1415,"y":-2.13},{"x":1416,"y":-1.25},{"x":1417,"y":-0.37},{"x":1418,"y":0.51},{"x":1419,"y":1.39},{"x":1420,"y":2.26},{"x":1421,"y":3.11},{"x":1422,"y":3.94},{"x":1423,"y":4.74},{"x":1424,"y":5.51},{"x":1425,"y":6.24},{"x":1426,"y":6.94},{"x":1427,"y":7.59},{"x":1428,"y":8.18},{"x":1429,"y":8.73},{"x":1430,"y":9.22},{"x":1431,"y":9.65},{"x":1432,"y":10.02},{"x":1433,"y":10.33},{"x":1434,"y":10.57},{"x":1435,"y":10.74},{"x":1436,"y":10.85},
{"x":1437,"y":10.88},{"x":1438,"y":10.85},{"x":1439,"y":10.74},{"x":1440,"y":10.57},{"x":1441,"y":10.33},{"x":1442,"y":10.02},{"x":1443,"y":9.65},{"x":1444,"y":9.22},{"x":1445,"y":8.73},{"x":1446,"y":8.18},{"x":1447,"y":7.59},{"x":1448,"y":6.94},{"x":1449,"y":6.24},{"x":1450,"y":5.51},{"x":1451,"y":4.74},{"x":1452,"y":3.94},{"x":1453,"y":3.11},{"x":1454,"y":2.26},{"x":1455,"y":1.39},{"x":1456,"y":0.51},{"x":1457,"y":-0.37},{"x":1458,"y":-1.25},{"x":1459,"y":-2.13},{"x":1460,"y":-3},{"x":1461,"y":-3.85},{"x":1462,"y":-4.68},{"x":1463,"y":-5.48},{"x":1464,"y":-6.25},{"x":1465,"y":-6.98},{"x":1466,"y":-7.68},{"x":1467,"y":-8.33},{"x":1468,"y":-8.93},{"x":1469,"y":-9.47},{"x":1470,"y":-9.96},{"x":1471,"y":-10.39},{"x":1472,"y":-10.76},{"x":1473,"y":-11.07},{"x":1474,"y":-11.31},{"x":1475,"y":-11.48},{"x":1476,"y":-11.59},{"x":1477,"y":-11.62},{"x":1478,"y":-11.59},{"x":1479,"y":-11.48},{"x":1480,"y":-11.31},{"x":1481,"y":-11.07},{"x":1482,"y":-10.76},{"x":1483,"y":-10.39},{"x":1484,"y":-9.96},{"x":1485,"y":-9.47},{"x":1486,"y":-8.93},{"x":1487,"y":-8.33},{"x":1488,"y":-7.68},{"x":1489,"y":-6.98},{"x":1490,"y":-6.25},{"x":1491,"y":-5.48},{"x":1492,"y":-4.68},{"x":1493,"y":-3.85},{"x":1494,"y":-3},{"x":1495,"y":-2.13},{"x":1496,"y":-1.25},{"x":1497,"y":-0.37},{"x":1498,"y":0.51},{"x":1499,"y":1.39},{"x":1500,"y":2.26},{"x":1501,"y":3.11},{"x":1502,"y":3.94},{"x":1503,"y":4.74},{"x":1504,"y":5.51},{"x":1505,"y":6.24},{"x":1506,"y":6.94},{"x":1507,"y":7.59},{"x":1508,"y":8.18},{"x":1509,"y":8.73},{"x":1510,"y":9.22},{"x":1511,"y":9.65},{"x":1512,"y":10.02},{"x":1513,"y":10.33},{"x":1514,"y":10.57},{"x":1515,"y":10.74},{"x":1516,"y":10.85},
{"x":1517,"y":10.88},{"x":1518,"y":10.85},{"x":1519,"y":10.74},{"x":1520,"y":10.57},{"x":1521,"y":10.33},{"x":1522,"y":10.02},{"x":1523,"y":9.65},{"x":1524,"y":9.22},{"x":1525,"y":8.73},{"x":1526,"y":8.18},{"x":1527,"y":7.59},{"x":1528,"y":6.94},{"x":1529,"y":6.24},{"x":1530,"y":5.51},{"x":1531,"y":4.74},{"x":1532,"y":3.94},{"x":1533,"y":3.11},{"x":1534,"y":2.26},{"x":1535,"y":1.39},{"x":1536,"y":0.51},{"x":1537,"y":-0.37},{"x":1538,"y":-1.25},{"x":1539,"y":-2.13},{"x":1540,"y":-3},{"x":1541,"y":-3.85},{"x":1542,"y":-4.68},{"x":1543,"y":-5.48},{"x":1544,"y":-6.25},{"x":1545,"y":-6.98},{"x":1546,"y":-7.68},{"x":1547,"y":-8.33},{"x":1548,"y":-8.93},{"x":1549,"y":-9.47},{"x":1550,"y":-9.96},{"x":1551,"y":-10.39},{"x":1552,"y":-10.76},{"x":1553,"y":-11.07},{"x":1554,"y":-11.31},{"x":1555,"y":-11.48},{"x":1556,"y":-11.59},{"x":1557,"y":-11.62},{"x":1558,"y":-11.59},{"x":1559,"y":-11.48},{"x":1560,"y":-11.31},{"x":1561,"y":-11.07},{"x":1562,"y":-10.76},{"x":1563,"y":-10.39},{"x":1564,"y":-9.96},{"x":1565,"y":-9.47},{"x":1566,"y":-8.93},{"x":1567,"y":-8.33},{"x":1568,"y":-7.68},{"x":1569,"y":-6.98},{"x":1570,"y":-6.25},{"x":1571,"y":-5.48},{"x":1572,"y":-4.68},{"x":1573,"y":-3.85},{"x":1574,"y":-3},{"x":1575,"y":-2.13},{"x":1576,"y":-1.25},{"x":1577,"y":-0.37},{"x":1578,"y":0.51},{"x":1579,"y":1.39},{"x":1580,"y":2.26},{"x":1581,"y":3.11},{"x":1582,"y":3.94},{"x":1583,"y":4.74},{"x":1584,"y":5.51},{"x":1585,"y":6.24},{"x":1586,"y":6.94},{"x":1587,"y":7.59},{"x":1588,"y":8.18},{"x":1589,"y":8.73},{"x":1590,"y":9.22},{"x":1591,"y":9.65},{"x":1592,"y":10.02},{"x":1593,"y":10.33},{"x":1594,"y":10.57},{"x":1595,"y":10.74},{"x":1596,"y":10.85},
{"x":1597,"y":10.88},{"x":1598,"y":10.85},{"x":1599,"y":10.74},{"x":1600,"y":10.57},{"x":1601,"y":10.33},{"x":1602,"y":10.02},{"x":1603,"y":9.65},{"x":1604,"y":9.22},{"x":1605,"y":8.73},{"x":1606,"y":8.18},{"x":1607,"y":7.59},{"x":1608,"y":6.94},{"x":1609,"y":6.24},{"x":1610,"y":5.51},{"x":1611,"y":4.74},{"x":1612,"y":3.94},{"x":1613,"y":3.11},{"x":1614,"y":2.26},{"x":1615,"y":1.39},{"x":1616,"y":0.51},{"x":1617,"y":-0.37},{"x":1618,"y":-1.25},{"x":1619,"y":-2.13},{"x":1620,"y":-3},{"x":1621,"y":-3.85},{"x":1622,"y":-4.68},{"x":1623,"y":-5.48},{"x":1624,"y":-6.25},{"x":1625,"y":-6.98},{"x":1626,"y":-7.68},{"x":1627,"y":-8.33},{"x":1628,"y":-8.93},{"x":1629,"y":-9.47},{"x":1630,"y":-9.96},{"x":1631,"y":-10.39},{"x":1632,"y":-10.76},{"x":1633,"y":-11.07},{"x":1634,"y":-11.31},{"x":1635,"y":-11.48},{"x":1636,"y":-11.59},{"x":1637,"y":-11.62},{"x":1638,"y":-11.59},{"x":1639,"y":-11.48},{"x":1640,"y":-11.31},{"x":1641,"y":-11.07},{"x":1642,"y":-10.76},{"x":1643,"y":-10.39},{"x":1644,"y":-9.96},{"x":1645,"y":-9.47},{"x":1646,"y":-8.93},{"x":1647,"y":-8.33},{"x":1648,"y":-7.68},{"x":1649,"y":-6.98},{"x":1650,"y":-6.25},{"x":1651,"y":-5.48},{"x":1652,"y":-4.68},{"x":1653,"y":-3.85},{"x":1654,"y":-3},{"x":1655,"y":-2.13},{"x":1656,"y":-1.25},{"x":1657,"y":-0.37},{"x":1658,"y":0.51},{"x":1659,"y":1.39},{"x":1660,"y":2.26},{"x":1661,"y":3.11},{"x":1662,"y":3.94},{"x":1663,"y":4.74},{"x":1664,"y":5.51},{"x":1665,"y":6.24},{"x":1666,"y":6.94},{"x":1667,"y":7.59},{"x":1668,"y":8.18},{"x":1669,"y":8.73},{"x":1670,"y":9.22},{"x":1671,"y":9.65},{"x":1672,"y":10.02},{"x":1673,"y":10.33},{"x":1674,"y":10.57},{"x":1675,"y":10.74},{"x":1676,"y":10.85},
{"x":1677,"y":10.88},{"x":1678,"y":10.85},{"x":1679,"y":10.74},{"x":1680,"y":10.57},{"x":1681,"y":10.33},{"x":1682,"y":10.02},{"x":1683,"y":9.65},{"x":1684,"y":9.22},{"x":1685,"y":8.73},{"x":1686,"y":8.18},{"x":1687,"y":7.59},{"x":1688,"y":6.94},{"x":1689,"y":6.24},{"x":1690,"y":5.51},{"x":1691,"y":4.74},{"x":1692,"y":3.94},{"x":1693,"y":3.11},{"x":1694,"y":2.26},{"x":1695,"y":1.39},{"x":1696,"y":0.51},{"x":1697,"y":-0.37},{"x":1698,"y":-1.25},{"x":1699,"y":-2.13},{"x":1700,"y":-3},{"x":1701,"y":-3.85},{"x":1702,"y":-4.68},{"x":1703,"y":-5.48},{"x":1704,"y":-6.25},{"x":1705,"y":-6.98},{"x":1706,"y":-7.68},{"x":1707,"y":-8.33},{"x":1708,"y":-8.93},{"x":1709,"y":-9.47},{"x":1710,"y":-9.96},{"x":1711,"y":-10.39},{"x":1712,"y":-10.76},{"x":1713,"y":-11.07},{"x":1714,"y":-11.31},{"x":1715,"y":-11.48},{"x":1716,"y":-11.59},{"x":1717,"y":-11.62},{"x":1718,"y":-11.59},{"x":1719,"y":-11.48},{"x":1720,"y":-11.31},{"x":1721,"y":-11.07},{"x":1722,"y":-10.76},{"x":1723,"y":-10.39},{"x":1724,"y":-9.96},{"x":1725,"y":-9.47},{"x":1726,"y":-8.93},{"x":1727,"y":-8.33},{"x":1728,"y":-7.68},{"x":1729,"y":-6.98},{"x":1730,"y":-6.25},{"x":1731,"y":-5.48},{"x":1732,"y":-4.68},{"x":1733,"y":-3.85},{"x":1734,"y":-3},{"x":1735,"y":-2.13},{"x":1736,"y":-1.25},{"x":1737,"y":-0.37},{"x":1738,"y":0.51},{"x":1739,"y":1.39},{"x":1740,"y":2.26},{"x":1741,"y":3.11},{"x":1742,"y":3.94},{"x":1743,"y":4.74},{"x":1744,"y":5.51},{"x":1745,"y":6.24},{"x":1746,"y":6.94},{"x":1747,"y":7.59},{"x":1748,"y":8.18},{"x":1749,"y":8.73},{"x":1750,"y":9.22},{"x":1751,"y":9.65},{"x":1752,"y":10.02},{"x":1753,"y":10.33},{"x":1754,"y":10.57},{"x":1755,"y":10.74},{"x":1756,"y":10.85},
{"x":1757,"y":10.88},{"x":1758,"y":10.85},{"x":1759,"y":10.74},{"x":1760,"y":10.57},{"x":1761,"y":10.33},{"x":1762,"y":10.02},{"x":1763,"y":9.65},{"x":1764,"y":9.22},{"x":1765,"y":8.73},{"x":1766,"y":8.18},{"x":1767,"y":7.59},{"x":1768,"y":6.94},{"x":1769,"y":6.24},{"x":1770,"y":5.51},{"x":1771,"y":4.74},{"x":1772,"y":3.94},{"x":1773,"y":3.11},{"x":1774,"y":2.26},{"x":1775,"y":1.39},{"x":1776,"y":0.51},{"x":1777,"y":-0.37},{"x":1778,"y":-1.25},{"x":1779,"y":-2.13},{"x":1780,"y":-3},{"x":1781,"y":-3.85},{"x":1782,"y":-4.68},{"x":1783,"y":-5.48},{"x":1784,"y":-6.25},{"x":1785,"y":-6.98},{"x":1786,"y":-7.68},{"x":1787,"y":-8.33},{"x":1788,"y":-8.93},{"x":1789,"y":-9.47},{"x":1790,"y":-9.96},{"x":1791,"y":-10.39},{"x":1792,"y":-10.76},{"x":1793,"y":-11.07},{"x":1794,"y":-11.31},{"x":1795,"y":-11.48},{"x":1796,"y":-11.59},{"x":1797,"y":-11.62},{"x":1798,"y":-11.59},{"x":1799,"y":-11.48},{"x":1800,"y":-11.31},{"x":1801,"y":-11.07},{"x":1802,"y":-10.76},{"x":1803,"y":-10.39},{"x":1804,"y":-9.96},{"x":1805,"y":-9.47},{"x":1806,"y":-8.93},{"x":1807,"y":-8.33},{"x":1808,"y":-7.68},{"x":1809,"y":-6.98},{"x":1810,"y":-6.25},{"x":1811,"y":-5.48},{"x":1812,"y":-4.68},{"x":1813,"y":-3.85},{"x":1814,"y":-3},{"x":1815,"y":-2.13},{"x":1816,"y":-1.25},{"x":1817,"y":-0.37},{"x":1818,"y":0.51},{"x":1819,"y":1.39},{"x":1820,"y":2.26},{"x":1821,"y":3.11},{"x":1822,"y":3.94},{"x":1823,"y":4.74},{"x":1824,"y":5.51},{"x":1825,"y":6.24},{"x":1826,"y":6.94},{"x":1827,"y":7.59},{"x":1828,"y":8.18},{"x":1829,"y":8.73},{"x":1830,"y":9.22},{"x":1831,"y":9.65},{"x":1832,"y":10.02},{"x":1833,"y":10.33},{"x":1834,"y":10.57},{"x":1835,"y":10.74},{"x":1836,"y":10.85},
{"x":1837,"y":10.88},{"x":1838,"y":10.85},{"x":1839,"y":10.74},{"x":1840,"y":10.57},{"x":1841,"y":10.33},{"x":1842,"y":10.02},{"x":1843,"y":9.65},{"x":1844,"y":9.22},{"x":1845,"y":8.73},{"x":1846,"y":8.18},{"x":1847,"y":7.59},{"x":1848,"y":6.94},{"x":1849,"y":6.24},{"x":1850,"y":5.51},{"x":1851,"y":4.74},{"x":1852,"y":3.94},{"x":1853,"y":3.11},{"x":1854,"y":2.26},{"x":1855,"y":1.39},{"x":1856,"y":0.51},{"x":1857,"y":-0.37},{"x":1858,"y":-1.25},{"x":1859,"y":-2.13},{"x":1860,"y":-3},{"x":1861,"y":-3.85},{"x":1862,"y":-4.68},{"x":1863,"y":-5.48},{"x":1864,"y":-6.25},{"x":1865,"y":-6.98},{"x":1866,"y":-7.68},{"x":1867,"y":-8.33},{"x":1868,"y":-8.93},{"x":1869,"y":-9.47},{"x":1870,"y":-9.96},{"x":1871,"y":-10.39},{"x":1872,"y":-10.76},{"x":1873,"y":-11.07},{"x":1874,"y":-11.31},{"x":1875,"y":-11.48},{"x":1876,"y":-11.59},{"x":1877,"y":-11.62},{"x":1878,"y":-11.59},{"x":1879,"y":-11.48},{"x":1880,"y":-11.31},{"x":1881,"y":-11.07},{"x":1882,"y":-10.76},{"x":1883,"y":-10.39},{"x":1884,"y":-9.96},{"x":1885,"y":-9.47},{"x":1886,"y":-8.93},{"x":1887,"y":-8.33},{"x":1888,"y":-7.68},{"x":1889,"y":-6.98},{"x":1890,"y":-6.25},{"x":1891,"y":-5.48},{"x":1892,"y":-4.68},{"x":1893,"y":-3.85},{"x":1894,"y":-3},{"x":1895,"y":-2.13},{"x":1896,"y":-1.25},{"x":1897,"y":-0.37},{"x":1898,"y":0.51},{"x":1899,"y":1.39},{"x":1900,"y":2.26},{"x":1901,"y":3.11},{"x":1902,"y":3.94},{"x":1903,"y":4.74},{"x":1904,"y":5.51},{"x":1905,"y":6.24},{"x":1906,"y":6.94},{"x":1907,"y":7.59},{"x":1908,"y":8.18},{"x":1909,"y":8.73},{"x":1910,"y":9.22},{"x":1911,"y":9.65},{"x":1912,"y":10.02},{"x":1913,"y":10.33},{"x":1914,"y":10.57},{"x":1915,"y":10.74},{"x":1916,"y":10.85},
{"x":1917,"y":10.88},{"x":1918,"y":10.85},{"x":1919,"y":10.74},{"x":1920,"y":10.57},{"x":1921,"y":10.33},{"x":1922,"y":10.02},{"x":1923,"y":9.65},{"x":1924,"y":9.22},{"x":1925,"y":8.73},{"x":1926,"y":8.18},{"x":1927,"y":7.59},{"x":1928,"y":6.94},{"x":1929,"y":6.24},{"x":1930,"y":5.51},{"x":1931,"y":4.74},{"x":1932,"y":3.94},{"x":1933,"y":3.11},{"x":1934,"y":2.26},{"x":1935,"y":1.39},{"x":1936,"y":0.51},{"x":1937,"y":-0.37},{"x":1938,"y":-1.25},{"x":1939,"y":-2.13},{"x":1940,"y":-3},{"x":1941,"y":-3.85},{"x":1942,"y":-4.68},{"x":1943,"y":-5.48},{"x":1944,"y":-6.25},{"x":1945,"y":-6.98},{"x":1946,"y":-7.68},{"x":1947,"y":-8.33},{"x":1948,"y":-8.93},{"x":1949,"y":-9.47},{"x":1950,"y":-9.96},{"x":1951,"y":-10.39},{"x":1952,"y":-10.76},{"x":1953,"y":-11.07},{"x":1954,"y":-11.31},{"x":1955,"y":-11.48},{"x":1956,"y":-11.59},{"x":1957,"y":-11.62},{"x":1958,"y":-11.59},{"x":1959,"y":-11.48},{"x":1960,"y":-11.31},{"x":1961,"y":-11.07},{"x":1962,"y":-10.76},{"x":1963,"y":-10.39},{"x":1964,"y":-9.96},{"x":1965,"y":-9.47},{"x":1966,"y":-8.93},{"x":1967,"y":-8.33},{"x":1968,"y":-7.68},{"x":1969,"y":-6.98},{"x":1970,"y":-6.25},{"x":1971,"y":-5.48},{"x":1972,"y":-4.68},{"x":1973,"y":-3.85},{"x":1974,"y":-3},{"x":1975,"y":-2.13},{"x":1976,"y":-1.25},{"x":1977,"y":-0.37},{"x":1978,"y":0.51},{"x":1979,"y":1.39},{"x":1980,"y":2.26},{"x":1981,"y":3.11},{"x":1982,"y":3.94},{"x":1983,"y":4.74},{"x":1984,"y":5.51},{"x":1985,"y":6.24},{"x":1986,"y":6.94},{"x":1987,"y":7.59},{"x":1988,"y":8.18}
],
"hl":[{"x":0,"x2":359,"y":0},{"x":314,"x2":2002,"y":10.87},{"x":351,"x2":2002,"y":-11.64}],
"arr":[{"id":"max","x":1882,"y":10.87},{"id":"max","x":2092,"y":11.74},{"id":"min","x":1875,"y":-11.72},{"id":"min","x":2150,"y":-12.72},{"id":"zero","x":94,"y":-0.05},{"id":"zero","x":-130,"y":-1.58}],
"ah":[{"x":2083,"y":11.71,"a":-12},{"x":2137,"y":-12.69,"a":10},{"x":-120,"y":-1.5,"a":161}],
"lab":[{"t":"MAX","x":2099,"y":11.15},{"t":"MIN","x":2158,"y":-13.16},{"t":"ZERO","x":-256,"y":-2.89}]
},
"layer":[
{"data":{"name":"pts"},"mark":{"type":"point","filled":true,"size":6,"color":"#2a2aae","opacity":1},
"encoding":{"x":{"field":"x","type":"quantitative","scale":{"domain":[0,2370],"nice":false,"zero":false},"axis":{"orient":"bottom","values":[0,500,1000,1500,2000],"labelPadding":8}},
"y":{"field":"y","type":"quantitative","scale":{"domain":[-15,15],"nice":false,"zero":false},"axis":{"orient":"left","values":[-15,-10,-5,0,5,10,15]}}}},
{"data":{"name":"hl"},"mark":{"type":"rule","color":"#1d3ae8","strokeWidth":2.5},
"encoding":{"x":{"field":"x","type":"quantitative","axis":{"orient":"top","labels":false,"values":[0,500,1000,1500,2000]}},"x2":{"field":"x2"},"y":{"field":"y","type":"quantitative","axis":{"orient":"left","values":[-15,-10,-5,0,5,10,15]}}}},
{"data":{"name":"arr"},"mark":{"type":"line","color":"#111111","strokeWidth":2},
"encoding":{"x":{"field":"x","type":"quantitative","axis":null},"y":{"field":"y","type":"quantitative","axis":{"orient":"left","values":[-15,-10,-5,0,5,10,15]}},"detail":{"field":"id"}}},
{"data":{"name":"ah"},"mark":{"type":"point","shape":"triangle-right","filled":true,"size":45,"color":"#111111","opacity":1},
"encoding":{"x":{"field":"x","type":"quantitative","axis":null},"y":{"field":"y","type":"quantitative","axis":{"orient":"left","values":[-15,-10,-5,0,5,10,15]}},"angle":{"field":"a","type":"quantitative","scale":null}}},
{"data":{"name":"lab"},"mark":{"type":"text","align":"left","baseline":"alphabetic","fontSize":17,"font":"Liberation Sans","color":"#333333"},
"encoding":{"x":{"field":"x","type":"quantitative","axis":null},"y":{"field":"y","type":"quantitative","axis":{"orient":"left","values":[-15,-10,-5,0,5,10,15]}},"text":{"field":"t"}}}
],
"resolve":{"axis":{"x":"independent"}}
}
